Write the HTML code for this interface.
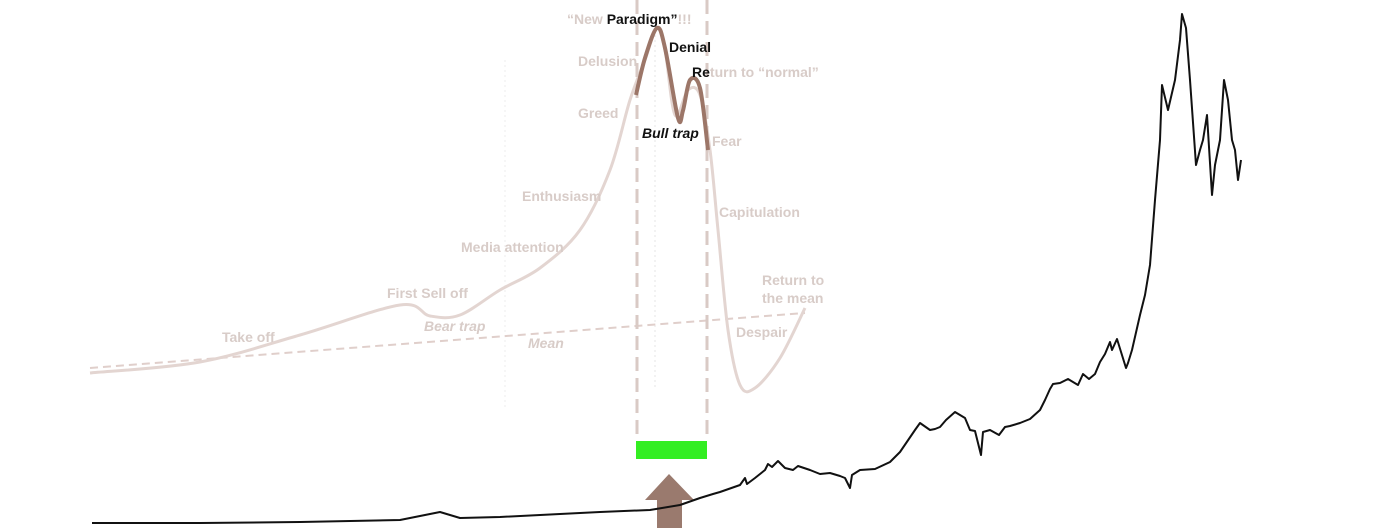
<!DOCTYPE html>
<html><head><meta charset="utf-8"><style>
html,body{margin:0;padding:0;background:#fff;}
svg{display:block;font-family:"Liberation Sans",Arial,sans-serif;}
.l{fill:#d8ccc8;font-size:14px;font-weight:bold;}
.d{fill:#111;font-size:14px;font-weight:bold;}
</style></head><body>
<svg id="c" width="1400" height="528">
<g id="bg"></g>
<g id="fg"></g>
<g>
<text class="l" x="567" y="24">“New <tspan fill="#111">Paradigm”</tspan>!!!</text>
<text class="d" x="669" y="52">Denial</text>
<text class="l" x="578" y="66">Delusion</text>
<text class="l" x="692" y="77"><tspan fill="#111">Re</tspan>turn to “normal”</text>
<text class="l" x="578" y="118">Greed</text>
<text class="d" x="642" y="138" font-style="italic">Bull trap</text>
<text class="l" x="712" y="146">Fear</text>
<text class="l" x="522" y="201">Enthusiasm</text>
<text class="l" x="719" y="217">Capitulation</text>
<text class="l" x="461" y="252">Media attention</text>
<text class="l" x="762" y="285">Return to</text>
<text class="l" x="762" y="303">the mean</text>
<text class="l" x="387" y="298">First Sell off</text>
<text class="l" x="424" y="331" font-style="italic">Bear trap</text>
<text class="l" x="222" y="342">Take off</text>
<text class="l" x="736" y="337">Despair</text>
<text class="l" x="528" y="348" font-style="italic">Mean</text>
</g>
</svg>
<script>
// price series (time index, price units)
const priceT=[0,54,104,154,174,184,204,234,254,279,294,304,310.5,314,324,326.5,327.5,331.5,336.5,338,340,343,346.5,350.5,353,359,364,369,374,376.5,379,380,384,391.5,399,404,411.5,414,419,421.5,424,427,431.5,434,436.5,439,441.5,444.5,445.5,449,453.5,456.5,459,464,469,474,476.5,479,480.5,484,488,493,495.5,498.5,501.5,504,506.5,509,510,512.5,517,518,520,524,526.5,529,531.5,534,535,538,541.5,544,545,547,549,552,554,555.5,557.5,560,561.5,564,566,568,570,571.5,573,574.5];
const priceV=[0.4,0.4,0.6,1,2.6,1.4,1.6,2.2,2.6,3,4,5.4,6.2,6.6,8,9.4,8.2,9.4,11,12.2,11.6,12.8,11.4,11,11.8,11,10.2,10.4,9.8,9.4,7.4,10,11,11.2,12.6,14.6,19,20.4,19,19.2,19.6,21,22.6,22,21.4,19,18.8,14,18.6,19,18,19.6,19.8,20.4,21.2,23,25,27.2,28.2,28.4,29.2,28,30.2,29.2,30.2,32.6,34.2,36.6,35,37.2,31.4,32.4,35,42,46,52,65,77,88,83,89,97,102.2,99.4,89,72,75,77,82,66,72,77,89,85,77,75,69,73];
// bubble illustration (stage index, sentiment level)
const bubT=[0,22,42,62,68,74,82,90,98,104,108,111,113.4,115,117,119.6,122,124,125.6,127.6,130,133,138,143];
const bubV=[30,32.2,37.6,43.6,41.4,41.6,46.6,51,58.6,70.6,84.6,92.6,99,94.6,81.6,86.6,85.6,74.6,58.6,38.6,27.6,27,33,43];
const peakT=[109.2,111,113.4,115,117.6,118.6,120,122,123.6];
const peakV=[85.6,93,99,95,81,82.5,88.6,87,74.6];
const meanT=[0,143];const meanV=[31,42];

const X=t=>92+t*2, Y=v=>525-v*5;
const BX=t=>90+t*5, BY=v=>523-v*5;
const NS='http://www.w3.org/2000/svg';
function smooth(pts){let d=`M${pts[0][0]},${pts[0][1]}`;for(let i=0;i<pts.length-1;i++){const p0=pts[Math.max(0,i-1)],p1=pts[i],p2=pts[i+1],p3=pts[Math.min(pts.length-1,i+2)];d+=` C${p1[0]+(p2[0]-p0[0])/6},${p1[1]+(p2[1]-p0[1])/6} ${p2[0]-(p3[0]-p1[0])/6},${p2[1]-(p3[1]-p1[1])/6} ${p2[0]},${p2[1]}`;}return d;}
function mk(tag,attrs,parent){const e=document.createElementNS(NS,tag);for(const k in attrs)e.setAttribute(k,attrs[k]);parent.appendChild(e);return e;}
const bg=document.getElementById('bg'),fg=document.getElementById('fg');
let g1=mk('line',{x1:505,y1:60,x2:505,y2:410,stroke:'#eee','stroke-width':1,'stroke-dasharray':'2,3'},bg);


let g2=mk('line',{x1:655,y1:30,x2:655,y2:390,stroke:'#e6e6e6','stroke-width':1,'stroke-dasharray':'2,3'},bg);


let ml=mk('line',{x1:BX(meanT[0]),y1:BY(meanV[0]),x2:BX(meanT[1]),y2:BY(meanV[1]),stroke:'#e0cfcb','stroke-width':2,'stroke-dasharray':'8,5'},bg);


let bc=mk('path',{d:smooth(bubT.map((t,i)=>[BX(t),BY(bubV[i])])),fill:'none',stroke:'#e3d5d1','stroke-width':3},bg);


[637,707].forEach(x=>{let v=mk('line',{x1:x,y1:0,x2:x,y2:440,stroke:'#d9cac5','stroke-width':3,'stroke-dasharray':'14,7'},bg);

});
let pk=mk('path',{d:smooth(peakT.map((t,i)=>[BX(t),BY(peakV[i])])),fill:'none',stroke:'#9c7668','stroke-width':4},bg);


let gr=mk('rect',{x:636,y:441,width:71,height:18,fill:'#33ee22'},bg);


let ar=mk('path',{d:'M657,528 L657,500 L645,500 L669,474 L694,500 L682,500 L682,528 Z',fill:'#9a7a6e'},bg);


let pl=mk('polyline',{points:priceT.map((t,i)=>X(t)+','+Y(priceV[i])).join(' '),fill:'none',stroke:'#111','stroke-width':2,'stroke-linejoin':'round'},fg);


</script>
</body></html>
